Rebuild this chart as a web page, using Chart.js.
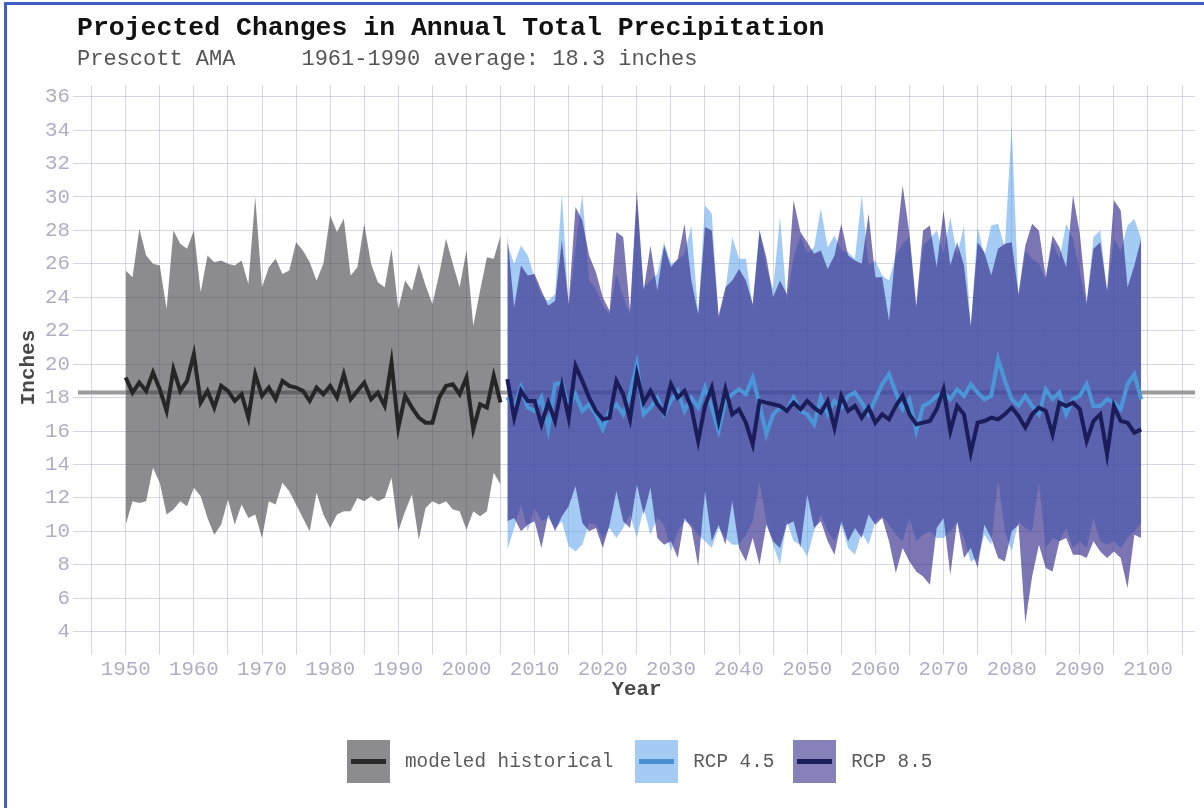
<!DOCTYPE html>
<html>
<head>
<meta charset="utf-8">
<script src="https://cdn.jsdelivr.net/npm/chart.js@4.4.1/dist/chart.umd.min.js"></script>
<style>
  html, body { margin: 0; padding: 0; background: #fff; }
  #wrap { position: relative; width: 1204px; height: 808px; overflow: hidden; font-family: "Liberation Mono", "Courier New", monospace; }
  #frame { position: absolute; left: 4px; top: 2px; width: 1220px; height: 830px; border-left: 3px solid #3f5fc4; border-top: 3px solid #3f5fc4; }
  #title { position: absolute; left: 77px; top: 13px; font-size: 26.5px; font-weight: bold; color: #111; white-space: pre; }
  #sub { position: absolute; left: 77px; top: 47px; font-size: 22px; color: #555; white-space: pre; }
  canvas { position: absolute; left: 0; top: 0; }
  #legend { position: absolute; left: 347px; top: 740px; display: flex; align-items: center; font-size: 19.3px; color: #5a5a5a; white-space: pre; }
  .sw { width: 43px; height: 43px; position: relative; }
  .sw i { position: absolute; left: 4px; right: 4px; top: 19px; height: 5px; }
  .lb { margin-left: 15px; }
</style>
</head>
<body>
<div id="wrap">
  <canvas id="grafico" width="1204" height="808"></canvas>
  <div id="frame"></div>
  <div id="title">Projected Changes in Annual Total Precipitation</div>
  <div id="sub">Prescott AMA     1961-1990 average: 18.3 inches</div>
  <div id="legend">
    <div class="sw" style="background:rgba(70,70,75,0.62)"><i style="background:#2a2a2a"></i></div>
    <span class="lb">modeled historical</span>
    <div class="sw" style="background:rgba(90,160,235,0.55);margin-left:22px"><i style="background:#4a8fd0"></i></div>
    <span class="lb">RCP 4.5</span>
    <div class="sw" style="background:rgba(55,45,140,0.6);margin-left:19px"><i style="background:#1b1f5c"></i></div>
    <span class="lb">RCP 8.5</span>
  </div>
</div>
<script>
const histStart = 1950
const futStart = 2006
const baseline = 18.3

const histUpper = [25.6,25.2,28.1,26.5,26.0,25.9,23.3,28.0,27.2,26.9,
  28.0,24.3,26.5,26.1,26.2,26.0,25.9,26.2,24.8,30.0,
  24.6,25.8,26.3,25.4,25.6,27.3,26.8,26.1,25.0,26.0,
  28.9,27.9,28.7,25.3,25.8,28.4,26.0,24.9,24.6,26.9,
  23.3,25.0,24.4,26.0,24.7,23.6,25.4,27.5,26.0,24.6,
  26.8,22.3,24.4,26.4,26.3,27.7]
const histLower = [10.4,11.8,11.7,11.8,13.8,12.9,11.0,11.3,11.8,11.5,
  12.6,12.1,10.8,9.8,10.4,11.9,10.4,11.6,10.8,11.0,
  9.6,11.8,11.6,12.9,12.4,11.6,10.8,10.0,12.3,11.0,
  10.2,11.0,11.2,11.2,12.0,11.8,12.1,11.8,12.0,13.2,
  10.0,11.2,12.2,9.5,11.4,11.8,11.6,11.8,11.3,11.2,
  10.1,11.2,10.9,11.2,13.5,12.8]
const histMid = [19.2,18.3,18.9,18.4,19.5,18.5,17.2,19.7,18.4,19.0,
  20.6,17.7,18.4,17.4,18.7,18.4,17.8,18.2,16.8,19.4,
  18.1,18.6,17.9,19.0,18.7,18.6,18.4,17.8,18.6,18.2,
  18.7,18.0,19.4,17.9,18.4,18.9,17.9,18.3,17.5,20.1,
  16.2,18.1,17.4,16.8,16.5,16.5,18.0,18.7,18.8,18.2,
  19.2,16.1,17.6,17.4,19.3,17.7]

const rcp45Upper = [27.2,26.0,27.1,26.5,25.2,24.1,23.8,24.2,30.2,23.4,
  27.0,30.2,25.0,24.5,23.5,23.0,25.4,24.0,23.0,29.8,
  24.6,25.0,25.4,27.3,26.0,26.2,26.6,28.3,23.0,29.5,
  29.0,22.7,24.4,27.6,26.3,26.3,23.4,28.1,25.8,24.5,
  28.8,23.8,26.4,27.7,26.6,27.0,29.3,27.0,27.7,26.8,
  26.7,26.3,30.1,25.9,26.2,25.3,25.0,26.5,27.2,27.6,
  23.3,27.1,27.5,28.0,26.6,28.8,26.5,28.3,22.2,28.2,
  26.5,28.3,28.4,27.0,34.3,24.0,26.8,26.3,26.0,25.0,
  27.3,26.3,28.4,27.5,25.5,23.5,27.6,28.0,24.3,27.5,
  26.8,28.3,28.7,27.5]
const rcp45Lower = [8.9,10.2,11.6,10.0,11.4,10.6,10.8,10.2,10.6,9.1,
  8.8,9.2,10.5,10.4,9.6,10.2,9.6,10.2,11.0,9.6,
  11.4,9.8,10.8,10.4,8.8,10.0,10.6,10.4,9.8,9.4,
  9.0,10.2,9.6,9.2,9.2,9.8,10.6,12.9,10.6,9.2,
  8.0,10.6,9.4,9.2,8.5,10.0,11.0,10.0,9.4,10.4,
  9.0,8.6,9.9,9.2,10.6,10.9,10.4,9.8,9.4,10.8,
  9.4,9.8,10.0,9.6,9.6,10.0,10.5,9.6,8.2,8.4,
  9.8,9.2,13.1,10.0,8.8,10.6,10.2,10.0,12.9,9.0,
  9.6,9.4,10.2,9.0,9.4,9.0,10.8,9.4,9.2,9.4,
  9.0,9.6,10.0,10.5]
const rcp45Mid = [18.0,17.4,18.6,17.4,17.2,18.0,16.1,18.8,18.9,17.4,
  18.2,17.2,17.6,17.0,16.1,17.2,17.6,17.0,18.2,20.0,
  17.0,17.4,18.0,17.0,17.8,18.4,17.2,18.0,17.4,18.6,
  17.4,16.0,17.8,18.2,18.5,18.2,19.2,17.6,15.8,17.0,
  17.4,17.2,18.0,17.2,17.0,16.4,18.0,17.0,17.8,17.4,
  18.1,18.3,17.7,17.0,17.9,18.8,19.4,18.3,17.3,17.9,
  16.0,17.5,17.7,18.1,18.3,17.9,18.5,18.1,18.8,18.3,
  17.9,18.1,20.3,19.0,17.9,17.5,18.1,17.5,17.0,18.5,
  17.9,18.3,17.0,17.9,18.1,18.8,17.5,17.5,17.9,17.7,
  17.3,18.8,19.4,17.9]

const rcp85Upper = [27.7,23.4,25.9,25.3,25.4,24.4,23.5,23.8,27.4,23.6,
  29.4,28.6,26.5,25.5,24.0,23.2,27.9,27.6,23.2,30.4,
  24.4,27.1,24.4,27.1,25.8,26.3,28.4,25.0,23.0,28.2,
  28.0,22.9,24.6,25.0,25.7,25.0,23.6,28.0,26.4,24.0,
  25.0,24.2,29.8,27.9,27.3,26.6,26.8,25.7,26.5,28.4,
  26.5,26.2,26.0,29.0,25.2,25.2,22.6,26.9,30.7,27.8,
  23.5,28.0,28.3,25.8,29.2,25.9,27.3,25.9,22.3,27.3,
  26.7,25.3,26.9,27.2,27.3,24.2,27.1,28.4,28.0,25.2,
  27.7,27.0,25.8,30.1,27.8,23.7,26.9,27.3,24.4,29.8,
  29.2,24.6,25.9,27.5]
const rcp85Lower = [10.6,10.8,10.0,10.4,10.6,9.0,11.0,10.0,10.9,11.5,
  12.7,10.5,10.0,10.2,9.0,10.4,12.4,10.6,10.2,12.8,
  11.0,12.6,9.6,9.2,9.4,8.4,10.8,10.2,7.9,12.4,
  9.4,10.4,9.2,11.8,9.0,8.2,9.6,8.0,10.4,9.4,
  9.0,10.4,10.6,9.0,12.2,10.2,10.6,9.4,8.6,10.6,
  9.4,10.2,9.6,11.0,10.4,10.8,9.4,7.5,9.0,8.2,
  7.6,7.3,6.8,10.2,10.8,7.4,10.6,8.4,9.0,7.8,
  10.4,9.6,8.4,8.2,10.0,10.4,4.5,7.3,9.2,7.8,
  7.6,9.4,9.6,8.6,8.6,8.4,9.4,8.8,8.4,8.8,
  8.4,6.6,9.8,9.6]
const rcp85Mid = [19.1,16.8,18.4,17.8,17.8,16.4,17.7,16.6,18.7,16.8,
  19.9,19.0,18.0,17.2,16.7,16.8,19.0,18.2,16.7,19.4,
  17.7,18.4,17.6,17.1,18.8,18.0,18.4,17.4,15.4,17.5,
  18.6,16.6,18.5,17.0,17.3,16.5,15.2,17.8,17.7,17.6,
  17.5,17.2,17.7,17.3,17.8,17.4,17.1,17.8,16.2,18.1,
  17.2,17.5,16.8,17.4,16.5,17.0,16.7,17.5,18.1,17.0,
  16.4,16.5,16.6,17.3,18.5,16.0,17.5,17.0,14.7,16.5,
  16.6,16.8,16.7,17.0,17.4,16.9,16.2,17.0,17.4,17.2,
  15.8,17.7,17.5,17.7,17.3,15.4,16.6,17.0,14.6,17.5,
  16.6,16.5,15.9,16.1]

const xMin = 1943, xMax = 2106.9
const yMin = 2.9, yMax = 36.7

const fuente = '"Liberation Mono", "Courier New", monospace'
const pts = (start, arr) => arr.map((v, i) => ({x: start + i, y: v}))

const linea = (data, color, order) => ({
  data, borderColor: color, borderWidth: 4, pointRadius: 0,
  fill: false, order, tension: 0
})
const banda = (data, color, target, order) => ({
  data, borderWidth: 0, borderColor: 'rgba(0,0,0,0)', pointRadius: 0,
  backgroundColor: color, fill: target === null ? false : {target}, order, tension: 0
})

document.addEventListener('DOMContentLoaded', () => {
  const ctx = document.getElementById('grafico')
  new Chart(ctx, {
    type: 'line',
    data: {
      datasets: [
        linea([{x: xMin, y: baseline}, {x: xMax, y: baseline}], '#9a9a9a', 20),
        banda(pts(histStart, histLower), 'transparent', null, 19),
        banda(pts(histStart, histUpper), 'rgba(70,70,75,0.62)', 1, 18),
        banda(pts(futStart, rcp45Lower), 'transparent', null, 17),
        banda(pts(futStart, rcp45Upper), 'rgba(90,160,235,0.55)', 3, 16),
        banda(pts(futStart, rcp85Lower), 'transparent', null, 15),
        banda(pts(futStart, rcp85Upper), 'rgba(55,45,140,0.66)', 5, 14),
        linea(pts(histStart, histMid), '#262626', 3),
        linea(pts(futStart, rcp45Mid), '#4a96d6', 2),
        linea(pts(futStart, rcp85Mid), '#1a1d5a', 1)
      ]
    },
    options: {
      responsive: false,
      animation: false,
      devicePixelRatio: 1,
      layout: { padding: { left: 0, top: 85, right: 9, bottom: 100 } },
      plugins: { legend: { display: false }, tooltip: { enabled: false } },
      scales: {
        x: {
          type: 'linear', min: xMin, max: xMax,
          afterFit: s => { s.height = 58 },
          border: { display: false },
          grid: { color: 'rgba(150,150,185,0.38)', lineWidth: 1, tickLength: 5, drawTicks: true },
          ticks: {
            stepSize: 5, includeBounds: false, autoSkip: false, maxRotation: 0, padding: 2,
            callback: v => v % 10 === 0 ? String(v) : '',
            color: '#b0aec2', font: { family: fuente, size: 20.8 }
          },
          title: { display: true, text: 'Year', color: '#484848', padding: { top: 0, bottom: 6 },
            font: { family: fuente, size: 20.8, weight: 'bold' } }
        },
        y: {
          min: yMin, max: yMax,
          afterFit: s => { s.width = 78 },
          border: { display: false },
          grid: { color: 'rgba(150,150,185,0.38)', lineWidth: 1, tickLength: 5 },
          ticks: {
            stepSize: 2, includeBounds: false, padding: 3,
            color: '#b0aec2', font: { family: fuente, size: 20.8 }
          },
          title: { display: true, text: 'Inches', color: '#484848', padding: { top: 16, bottom: 0 },
            font: { family: fuente, size: 21, weight: 'bold' } }
        }
      }
    }
  })
})
</script>
</body>
</html>
